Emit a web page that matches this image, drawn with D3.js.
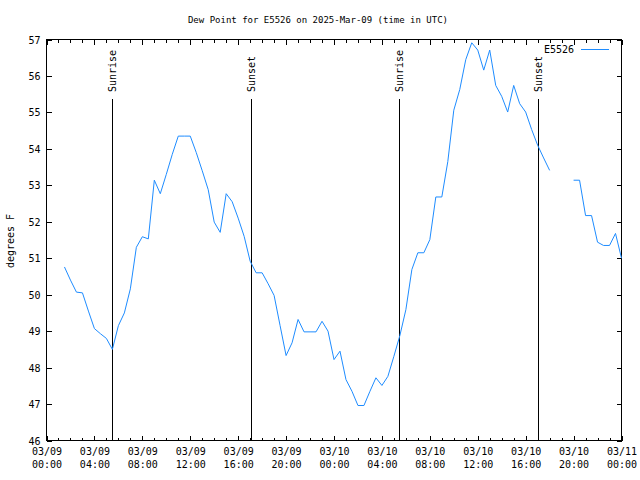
<!DOCTYPE html>
<html>
<head>
<meta charset="utf-8">
<script src="https://cdn.jsdelivr.net/npm/d3@7"></script>
<style>
  body { margin: 0; background: #fff; }
  svg { display: block; }
  text { font-family: "DejaVu Sans Mono", "Liberation Mono", monospace; font-size: 10px; fill: #000; }
</style>
</head>
<body>
<svg id="chart" width="640" height="480"></svg>
<script>
// ---- data (hours after 2025-03-09 00:00 UTC, dew point in F) ----
const hours = [1.5, 2, 2.5, 3, 3.5, 4, 4.5, 5, 5.5, 6, 6.5, 7, 7.5, 8, 8.5, 9, 9.5, 10, 10.5, 11, 11.5, 12,
  12.5, 13, 13.5, 14, 14.5, 15, 15.5, 16, 16.5, 17, 17.5, 18, 18.5, 19, 19.5, 20, 20.5, 21, 21.5, 22, 22.5,
  23, 23.5, 24, 24.5, 25, 25.5, 26, 26.5, 27, 27.5, 28, 28.5, 29, 29.5, 30, 30.5, 31, 31.5, 32, 32.5, 33,
  33.5, 34, 34.5, 35, 35.5, 36, 36.5, 37, 37.5, 38, 38.5, 39, 39.5, 40, 40.5, 41, 41.5, 42, 42.5, 43, 43.5,
  44, 44.5, 45, 45.5, 46, 46.5, 47, 47.5, 48];
const dewPoint = [50.76, 50.4, 50.07, 50.05, 49.55, 49.07, 48.93, 48.8, 48.5, 49.15, 49.5, 50.16, 51.3, 51.59, 51.53, 53.14, 52.77, 53.3, 53.85, 54.35, 54.35, 54.35,
  53.9, 53.4, 52.88, 51.99, 51.71, 52.77, 52.55, 52.1, 51.6, 50.92, 50.6, 50.6, 50.3, 49.98, 49.15, 48.33, 48.68, 49.32, 48.98, 48.98, 48.98,
  49.27, 49.0, 48.22, 48.45, 47.67, 47.35, 46.96, 46.96, 47.35, 47.72, 47.51, 47.76, 48.31, 48.88, 49.59, 50.69, 51.15, 51.15, 51.51, 52.68, 52.68,
  53.65, 55.06, 55.63, 56.45, 56.91, 56.71, 56.16, 56.71, 55.74, 55.44, 55.01, 55.74, 55.24, 55.01, 54.53, 54.1, 53.75, 53.41, null, null, null,
  53.14, 53.14, 52.17, 52.17, 51.44, 51.35, 51.35, 51.68, 51.0];
const sunEvents = [
  { label: "Sunrise", time: "2025-03-09T05:32:00Z" },
  { label: "Sunset",  time: "2025-03-09T17:08:00Z" },
  { label: "Sunrise", time: "2025-03-10T05:30:00Z" },
  { label: "Sunset",  time: "2025-03-10T17:06:00Z" }
];
const yTicks = [46, 47, 48, 49, 50, 51, 52, 53, 54, 55, 56, 57];
const xTickLabels = [
  ["03/09", "00:00"], ["03/09", "04:00"], ["03/09", "08:00"], ["03/09", "12:00"], ["03/09", "16:00"],
  ["03/09", "20:00"], ["03/10", "00:00"], ["03/10", "04:00"], ["03/10", "08:00"], ["03/10", "12:00"],
  ["03/10", "16:00"], ["03/10", "20:00"], ["03/11", "00:00"]
];
const seriesName = "E5526";
const titleText = "Dew Point for E5526 on 2025-Mar-09 (time in UTC)";
const yLabel = "degrees F";

// ---- layout ----
const L = 46.5, R = 621.5, T = 39.5, B = 440.5;
const t0 = Date.UTC(2025, 2, 9, 0, 0);
const t1 = Date.UTC(2025, 2, 11, 0, 0);
const HOUR = 3600 * 1000;

const svg = d3.select("#chart");
const x = d3.scaleUtc().domain([new Date(t0), new Date(t1)]).range([L, R]);
const y = d3.scaleLinear().domain([46, 57]).range([B, T]);

const data = hours.map((h, i) => ({ t: new Date(t0 + h * HOUR), v: dewPoint[i] }));
const majorTicks = xTickLabels.map((d, i) => new Date(t0 + i * 4 * HOUR));
const minorTicks = d3.utcHour.range(new Date(t0), new Date(t1 + 1)).filter(d => (d - t0) % (4 * HOUR) !== 0);

// title
svg.append("text").attr("x", 318).attr("y", 20).attr("text-anchor", "middle")
  .attr("dominant-baseline", "middle").attr("font-size", 9).style("font-size", "9px").text(titleText);

// y label
svg.append("text").attr("transform", "translate(11,241) rotate(-90)")
  .attr("text-anchor", "middle").attr("dominant-baseline", "middle").text(yLabel);

const g = svg.append("g").attr("shape-rendering", "crispEdges");

// axes (ticks pointing inwards on all sides)
const mkAx = (gen, tr, vals, size) => {
  const a = g.append("g").attr("transform", tr)
    .call(gen.tickValues(vals).tickSizeInner(size).tickSizeOuter(0).tickFormat(""));
  a.select(".domain").remove();
  a.selectAll("line").attr("stroke", "#000");
  return a;
};
const bottomMajor = mkAx(d3.axisBottom(x), `translate(0,${B})`, majorTicks, -5);
mkAx(d3.axisBottom(x), `translate(0,${B})`, minorTicks, -3);
mkAx(d3.axisTop(x), `translate(0,${T})`, majorTicks, -5);
mkAx(d3.axisTop(x), `translate(0,${T})`, minorTicks, -3);
const leftAx = mkAx(d3.axisLeft(y), `translate(${L},0)`, yTicks, -5);
mkAx(d3.axisRight(y), `translate(${R},0)`, yTicks, -5);

// tick labels
bottomMajor.selectAll(".tick").each(function (d, i) {
  const tk = d3.select(this);
  tk.append("text").attr("y", 14).attr("text-anchor", "middle").attr("fill", "#000")
    .attr("font-size", 10).attr("font-family", "DejaVu Sans Mono").text(xTickLabels[i][0]);
  tk.append("text").attr("y", 27).attr("text-anchor", "middle").attr("fill", "#000")
    .attr("font-size", 10).attr("font-family", "DejaVu Sans Mono").text(xTickLabels[i][1]);
});
leftAx.selectAll(".tick").append("text").attr("x", -6).attr("dy", "0.35em")
  .attr("text-anchor", "end").attr("fill", "#000").attr("font-size", 10)
  .attr("font-family", "DejaVu Sans Mono").text(d => d);

// sunrise / sunset lines
sunEvents.forEach(ev => {
  const px = Math.round(x(new Date(ev.time)) - 0.5) + 0.5;
  g.append("line").attr("x1", px).attr("x2", px).attr("y1", 99).attr("y2", B)
    .attr("stroke", "#000").attr("stroke-width", 1);
  svg.append("text").attr("transform", `translate(${px + 0.5},92) rotate(-90)`)
    .attr("text-anchor", "start").attr("dominant-baseline", "middle").text(ev.label);
});

// frame
g.append("rect").attr("x", L).attr("y", T).attr("width", R - L).attr("height", B - T)
  .attr("fill", "none").attr("stroke", "#000").attr("stroke-width", 1);

// data line
const line = d3.line().defined(d => d.v !== null).x(d => x(d.t)).y(d => y(d.v));
svg.append("path").datum(data).attr("d", line).attr("fill", "none")
  .attr("stroke", "#1e8cff").attr("stroke-width", 1);

// legend
svg.append("text").attr("x", 574).attr("y", 50).attr("text-anchor", "end")
  .attr("dominant-baseline", "middle").text(seriesName);
g.append("line").attr("x1", 581).attr("x2", 609).attr("y1", 49.5).attr("y2", 49.5)
  .attr("stroke", "#1e8cff").attr("stroke-width", 1);
</script>
</body>
</html>
